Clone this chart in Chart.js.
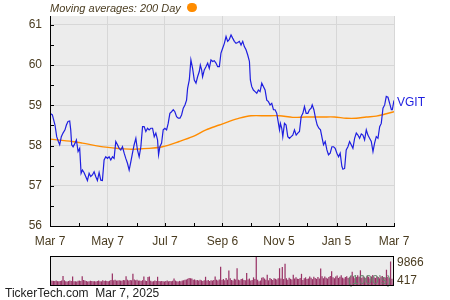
<!DOCTYPE html>
<html><head><meta charset="utf-8">
<script src="https://cdn.jsdelivr.net/npm/chart.js@4.4.1/dist/chart.umd.min.js"></script>
<style>
html,body{margin:0;padding:0;background:#fff;}
#wrap{position:relative;width:450px;height:300px;overflow:hidden;font-family:"Liberation Sans",Arial,sans-serif;}
canvas{position:absolute;left:0;top:0;}
#title{position:absolute;left:50px;top:1.5px;font-size:11px;font-style:italic;color:#4a3c20;white-space:nowrap;}
#dot{position:absolute;left:187px;top:2.5px;width:9.5px;height:9.5px;border-radius:50%;background:#ff8c00;}
#footer{position:absolute;left:5px;top:286px;font-size:12px;color:#222;white-space:nowrap;}
</style>
</head><body>
<div id="wrap">
<canvas id="main" width="450" height="300"></canvas>
<canvas id="vol" width="450" height="300"></canvas>
<div id="title">Moving averages: 200 Day</div>
<div id="dot"></div>
<div id="footer">TickerTech.com&nbsp;&nbsp;Mar 7, 2025</div>
</div>
<script>
const symbol = 'VGIT';
const tickDays = [0, 61, 122, 183, 243, 304, 365];
const tickLabels = ['Mar 7', 'May 7', 'Jul 7', 'Sep 6', 'Nov 5', 'Jan 5', 'Mar 7'];
const monthDays = [0, 31, 61, 92, 122, 153, 183, 213, 243, 273, 304, 335, 365];
const yTicks = [56, 57, 58, 59, 60, 61];

const priceDays = [0,2.5,5.3,7.1,8.9,10.3,12.0,13.8,15.9,17.4,
19.1,20.9,22.0,23.0,24.5,26.6,28.0,29.8,31.5,33.0,
34.4,36.1,37.9,39.7,41.5,43.2,45.0,46.8,48.5,50.3,
52.1,53.9,55.6,57.4,59.2,61.0,62.7,64.5,66.3,68.0,
69.8,71.6,73.4,75.1,76.9,78.7,80.4,82.2,84.0,85.8,
87.5,89.3,91.1,92.8,94.6,96.4,98.2,99.9,101.7,103.5,
105.2,107.0,108.8,110.6,112.3,114.1,115.2,116.6,118.4,120.1,
121.9,123.7,125.4,127.2,129.0,130.8,132.5,134.3,136.1,137.9,
139.6,141.4,143.2,144.9,146.0,147.8,149.5,151.3,153.1,154.9,
156.6,158.4,159.5,160.9,161.9,163.7,165.5,167.3,169.0,170.8,
172.6,174.3,176.1,177.9,179.7,181.4,183.2,185.0,186.8,188.5,
190.3,192.1,193.8,195.6,197.4,199.2,200.9,202.7,204.5,206.2,
208.0,209.8,211.6,212.6,214.0,215.8,217.6,219.4,221.1,222.9,
224.7,226.4,228.2,230.0,231.8,233.5,235.3,237.1,238.8,240.6,
242.4,243.5,244.5,245.9,247.0,248.8,250.5,252.3,254.1,255.9,
257.6,259.4,261.2,262.9,264.7,266.5,268.3,270.0,271.8,273.6,
275.3,277.1,278.2,280.0,281.7,283.5,285.3,287.0,288.8,290.2,
292.0,293.8,295.5,297.3,299.1,300.9,302.6,304.4,306.2,307.9,
309.7,310.8,312.6,314.3,316.1,317.9,319.6,321.4,323.2,325.0,
326.7,328.5,330.3,332.0,333.8,335.6,337.3,339.1,340.9,342.7,
344.4,346.2,348.0,349.8,351.5,353.3,355.1,356.8,358.6,360.4,
362.2,363.2,365.0];

const priceValues = [58.80,58.76,58.51,58.22,58.10,58.02,58.22,58.31,58.39,58.51,
58.60,58.61,58.39,58.02,57.97,58.06,58.14,57.85,57.93,57.31,
57.39,57.33,57.23,57.13,57.31,57.23,57.27,57.35,57.23,57.13,
57.33,57.14,57.13,57.64,57.72,57.68,57.72,57.64,57.72,57.68,
58.10,58.02,57.93,57.89,57.97,57.81,57.68,57.56,57.39,57.60,
57.81,58.02,58.18,57.89,57.72,57.97,58.47,58.47,58.35,58.43,
58.39,58.43,58.43,58.22,58.31,58.14,57.77,57.97,58.06,58.39,
58.43,58.39,58.55,58.80,58.84,58.89,58.84,58.72,58.68,58.68,
58.76,58.93,59.01,59.13,59.42,59.63,60.13,59.92,59.63,59.55,
59.71,59.84,60.00,59.88,59.71,59.88,59.96,60.05,59.92,60.13,
60.09,60.11,60.05,59.96,59.96,60.30,60.42,60.54,60.71,60.59,
60.64,60.75,60.67,60.59,60.54,60.56,60.59,60.50,60.59,60.46,
60.38,60.25,60.09,59.63,59.47,59.38,59.34,59.30,59.38,59.34,
59.55,59.47,59.38,59.13,59.09,59.01,59.05,58.89,58.89,58.80,
58.55,58.39,58.55,58.43,58.22,58.55,58.51,58.22,58.18,58.22,
58.26,58.39,58.26,58.31,58.35,58.72,58.80,58.97,58.80,58.80,
58.89,58.93,59.01,58.89,58.68,58.51,58.43,58.39,58.18,58.02,
58.10,57.89,57.77,57.81,57.97,57.97,57.93,57.81,57.72,57.81,
57.48,57.41,57.43,57.89,57.97,58.10,58.02,57.93,58.18,58.31,
58.26,58.18,58.29,58.26,58.14,58.39,58.26,58.18,58.10,57.85,
58.06,58.22,58.18,58.47,58.55,58.93,59.01,59.22,59.20,59.05,
58.89,58.89,59.12];

const maDays = [0,23.7,34.4,59.2,84.0,105.2,119.4,137.1,151.3,165.5,179.7,190.3,200.9,213.3,229.3,243.5,257.6,271.8,289.5,301.9,314.3,325.0,335.6,346.2,356.8,365.0];
const maValues = [58.16,58.10,58.06,57.96,57.91,57.93,57.97,58.10,58.22,58.39,58.51,58.60,58.68,58.74,58.74,58.74,58.70,58.71,58.71,58.71,58.68,58.68,58.71,58.73,58.79,58.84];

const volume = [1500,1450,1400,1350,1500,1300,1250,1400,1550,3100,
1600,1300,1200,1350,1500,1400,2900,1300,1250,1200,
1450,1500,1350,3000,1700,1550,1400,1200,1300,1450,
1350,1250,1300,1150,1400,1500,1300,1250,1600,1400,
1500,1350,1300,1450,1700,3900,1600,1750,1500,1550,
1650,1500,1450,1700,1600,3000,1800,1550,1700,1600,
3800,1900,1600,1750,1500,1550,1400,1650,2900,1500,
1350,2700,2900,1450,1200,1300,1500,1400,2800,1350,
1250,1400,1300,1200,1350,1500,1250,1400,1300,1450,
2200,1500,1300,1150,1400,1250,1500,1650,1800,1900,
2100,2400,2300,2200,1800,1900,1600,1700,1500,1750,
1600,1400,1650,2800,1500,1700,1400,1600,1500,1700,
2900,1800,1500,1900,6200,1700,2000,1600,2400,1800,
4900,2300,1700,1500,2100,1900,5700,1800,1600,2000,
2200,1700,1600,4100,1900,2200,1500,1700,2600,2000,
9866,1800,1300,1500,2500,2600,2200,1800,3500,1600,
2400,2000,1700,2300,2100,1900,2300,5700,2200,6100,
2000,7200,2300,1800,2500,2100,1900,3500,2200,2600,
2100,2000,2400,3800,1700,2300,2600,2000,2200,2900,
2500,2000,2800,2400,2100,2700,2200,5600,3000,2300,
2900,2500,2200,2700,3100,4700,2600,2300,2900,3200,
2400,2800,3300,2500,2200,2700,3000,2400,2600,3100,
4500,2900,2300,2700,3300,2800,5000,2500,3000,2600,
2400,3200,2800,2200,2900,3400,2600,2400,3000,2700,
2300,2900,3100,2600,2400,5200,2800,2300,8000,2100,
417];

const FONT = '"Liberation Sans", Arial, sans-serif';
const textColor = '#4a3c20';
const gridColor = '#d7d7d7';
const plotBg = '#ececec';

const mainDecor = {
  id: 'mainDecor',
  beforeDraw(chart) {
    const {ctx, chartArea: a} = chart;
    ctx.save();
    ctx.fillStyle = plotBg;
    ctx.fillRect(a.left, a.top, a.right - a.left, a.bottom - a.top);
    ctx.restore();
  },
  afterDraw(chart) {
    const {ctx, chartArea: a, scales} = chart;
    ctx.save();
    ctx.strokeStyle = '#000';
    ctx.lineWidth = 1;
    ctx.beginPath();
    ctx.moveTo(a.left + 0.5, a.top);
    ctx.lineTo(a.left + 0.5, a.bottom + 1);
    ctx.moveTo(a.left, a.bottom + 0.5);
    ctx.lineTo(a.right + 1, a.bottom + 0.5);
    for (let v = 56; v <= 61.001; v += 0.5) {
      const y = Math.round(scales.y.getPixelForValue(v)) + 0.5;
      ctx.moveTo(a.left, y); ctx.lineTo(a.left + 4, y);
    }
    monthDays.forEach(d => {
      const x = Math.round(scales.x.getPixelForValue(d)) + 0.5;
      ctx.moveTo(x, a.bottom); ctx.lineTo(x, a.bottom - 3);
    });
    ctx.stroke();
    const last = priceValues[priceValues.length - 1];
    ctx.fillStyle = '#1e1ee0';
    ctx.font = '12px ' + FONT;
    ctx.textBaseline = 'middle';
    ctx.textAlign = 'left';
    ctx.fillText(symbol, a.right + 3, scales.y.getPixelForValue(last) + 2);
    ctx.restore();
  }
};

new Chart(document.getElementById('main'), {
  type: 'line',
  data: {
    datasets: [
      { label: symbol, data: priceDays.map((d, i) => ({x: d, y: priceValues[i]})),
        borderColor: '#1f1fe0', borderWidth: 1.2, pointRadius: 0, tension: 0, order: 1 },
      { label: '200 Day', data: maDays.map((d, i) => ({x: d, y: maValues[i]})),
        borderColor: '#ff8c00', borderWidth: 1.4, pointRadius: 0, tension: 0.3, order: 2 }
    ]
  },
  options: {
    responsive: false, animation: false, devicePixelRatio: 1,
    layout: {padding: {top: 16, right: 56, bottom: 50, left: 0}},
    plugins: {legend: {display: false}, tooltip: {enabled: false}},
    scales: {
      x: {
        type: 'linear', min: 0, max: 365,
        afterBuildTicks: s => { s.ticks = tickDays.map(v => ({value: v})); },
        afterFit: s => { s.height = 24; },
        ticks: {autoSkip: false, maxRotation: 0, padding: 8, color: textColor,
          font: {family: FONT, size: 12}, callback: (v, i) => tickLabels[i]},
        grid: {color: gridColor, drawTicks: false},
        border: {display: false}
      },
      y: {
        min: 56, max: 61.22,
        afterBuildTicks: s => { s.ticks = yTicks.map(v => ({value: v})); },
        afterFit: s => { s.width = 50; },
        ticks: {padding: 8, color: textColor, font: {family: FONT, size: 12},
          callback: v => String(v)},
        grid: {color: gridColor, drawTicks: false},
        border: {display: false}
      }
    }
  },
  plugins: [mainDecor]
});

const volDecor = {
  id: 'volDecor',
  beforeDraw(chart) {
    const {ctx, chartArea: a} = chart;
    ctx.save();
    ctx.fillStyle = plotBg;
    ctx.fillRect(a.left, a.top, a.right - a.left, a.bottom - a.top);
    ctx.restore();
  },
  afterDraw(chart) {
    const {ctx, chartArea: a} = chart;
    ctx.save();
    ctx.font = '12px ' + FONT;
    ctx.textBaseline = 'middle';
    ctx.textAlign = 'right';
    ctx.fillStyle = 'rgba(95,135,105,0.9)';
    ctx.fillText("(1000's)", a.right - 3, a.bottom - 4);
    ctx.strokeStyle = '#000';
    ctx.lineWidth = 1;
    ctx.strokeRect(a.left + 0.5, a.top + 0.5, a.right - a.left - 1, a.bottom - a.top);
    ctx.textAlign = 'left';
    ctx.fillStyle = textColor;
    ctx.fillText(String(Math.max(...volume)), a.right + 3, a.top + 7);
    ctx.fillText(String(Math.min(...volume)), a.right + 3, a.bottom - 4);
    ctx.restore();
  }
};

new Chart(document.getElementById('vol'), {
  type: 'bar',
  data: {
    labels: volume.map((_, i) => i),
    datasets: [{data: volume, backgroundColor: '#993366', borderWidth: 0,
      barPercentage: 0.9, categoryPercentage: 1}]
  },
  options: {
    responsive: false, animation: false, devicePixelRatio: 1,
    layout: {padding: {top: 256, right: 56, bottom: 15, left: 50}},
    plugins: {legend: {display: false}, tooltip: {enabled: false}},
    scales: {
      x: {display: false},
      y: {display: false, min: 0, max: Math.max(...volume)}
    }
  },
  plugins: [volDecor]
});
</script>
</body></html>
